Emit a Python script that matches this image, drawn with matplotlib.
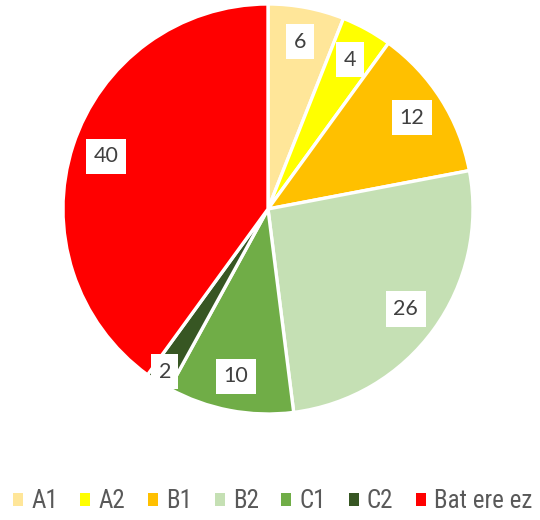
import matplotlib.pyplot as plt
import numpy as np
from matplotlib.patches import Patch

plt.rcParams['font.family'] = ['Roboto Condensed', 'DejaVu Sans']

labels = ['A1', 'A2', 'B1', 'B2', 'C1', 'C2', 'Bat ere ez']
values = [6, 4, 12, 26, 10, 2, 40]
colors = ['#FFE699', '#FFFF00', '#FFC000', '#C5E0B4', '#70AD47', '#375623', '#FF0000']

fig = plt.figure(figsize=(5.4, 5.2), dpi=100)
ax = fig.add_axes([0, 0, 1, 1])

cx, cy, r = 268, 311, 205
wedges, _ = ax.pie(values, colors=colors, startangle=90, counterclock=False,
                   center=(cx, cy), radius=r,
                   wedgeprops=dict(edgecolor='white', linewidth=2.4))

#value labels in white boxes, the small slice gets pushed outward
for w, v in zip(wedges, values):
    ang = np.deg2rad((w.theta1 + w.theta2) / 2)
    d = 0.94 if v < 3 else 0.83
    ax.text(cx + d * r * np.cos(ang), cy + d * r * np.sin(ang), str(v),
            ha='center', va='center', fontsize=15.5, color='#404040',
            family=['Lato', 'DejaVu Sans'],
            bbox=dict(facecolor='white', edgecolor='none', pad=5.5))

ax.set_xlim(0, 540)
ax.set_ylim(0, 520)
ax.set_aspect('equal')
ax.axis('off')

handles = [Patch(facecolor=c, edgecolor='none') for c in colors]
fig.legend(handles, labels, loc='center', bbox_to_anchor=(0.505, 0.036), ncol=7,
           frameon=False, fontsize=18, labelcolor='#595959',
           handlelength=0.4, handleheight=0.4, handletextpad=0.33,
           columnspacing=0.9, borderpad=0, borderaxespad=0)

fig.savefig('out.png', dpi=100)
